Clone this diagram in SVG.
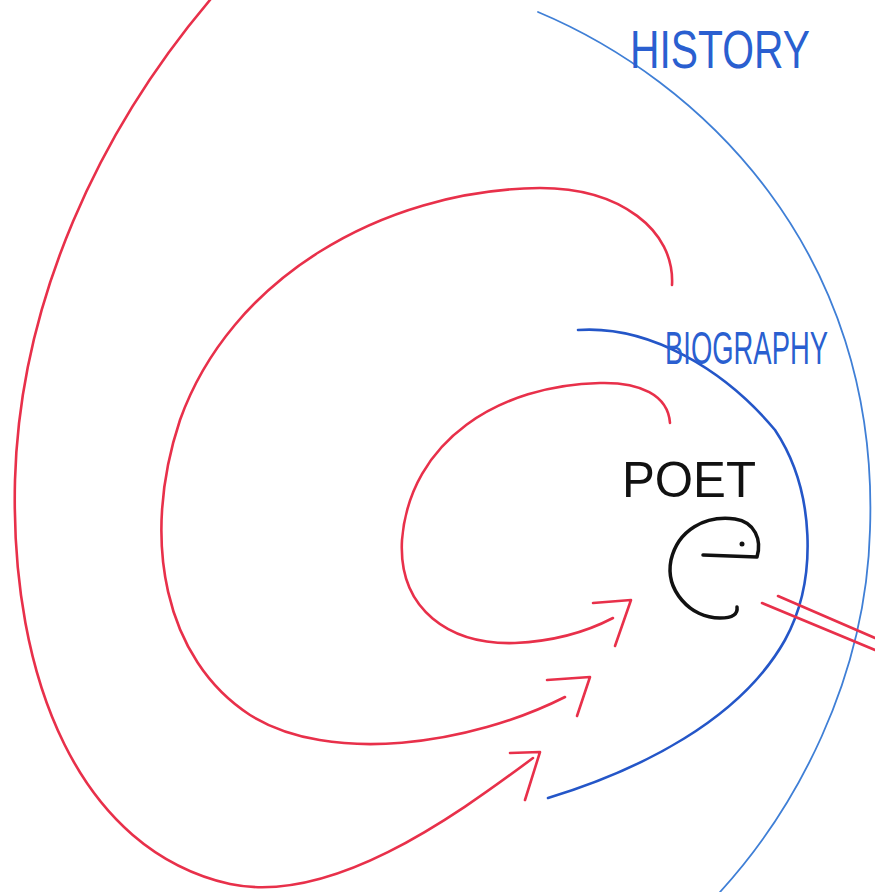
<svg xmlns="http://www.w3.org/2000/svg" width="875" height="892" viewBox="0 0 875 892">
<style>
.red{fill:none;stroke:#e8304a;stroke-width:2.6;stroke-linecap:round;stroke-linejoin:round}
.blue1{fill:none;stroke:#3f7fd6;stroke-width:1.8;stroke-linecap:round}
.blue2{fill:none;stroke:#2456c8;stroke-width:2.6;stroke-linecap:round}
.lbl{font-family:"Liberation Sans",Arial,sans-serif;fill:#2a5fd0}
.ink{fill:none;stroke:#111;stroke-width:3.5;stroke-linecap:round;stroke-linejoin:round}
</style>
<rect width="875" height="892" fill="#ffffff"/>
<g id="history">
<path class="blue1" d="M538,12 C700,80 880,250 870,530 C866,680 795,810 720,892"/>
<text class="lbl" x="630" y="68" font-size="54" textLength="180" lengthAdjust="spacingAndGlyphs">HISTORY</text>
</g>
<g id="biography">
<path class="blue2" d="M578,330 C650,325 725,370 775,430 C815,490 818,580 785,640 C740,720 640,770 548,798"/>
<text class="lbl" x="665" y="364" font-size="46" textLength="163" lengthAdjust="spacingAndGlyphs">BIOGRAPHY</text>
</g>
<g id="poet">
<text x="622" y="497" font-family="'Liberation Sans',Arial,sans-serif" font-size="50" fill="#111" textLength="134" lengthAdjust="spacingAndGlyphs">POET</text>
<path class="ink" d="M703,555 L757,557 C762,540 755,522 735,519 C705,515 678,530 671,560 C665,590 690,618 720,618 C733,618 738,614 737,607"/>
<circle cx="742" cy="544" r="2.5" fill="#111"/>
</g>
<g id="connectors">
<path class="red" d="M210,0 C100,130 20,300 15,480 C10,680 80,850 230,884 C330,905 450,820 533,758"/>
<path class="red" d="M510,753 L540,752 L525,800"/>
<path class="red" d="M672,285 C675,230 620,188 540,188 C380,190 230,280 180,420 C140,540 165,660 250,715 C330,765 470,745 565,697"/>
<path class="red" d="M547,680 L590,677 L577,716"/>
<path class="red" d="M670,423 C668,395 640,382 600,383 C500,385 410,440 402,540 C398,610 450,645 515,643 C560,641 590,630 613,618"/>
<path class="red" d="M593,603 L631,600 L615,646"/>
<path class="red" d="M762,603 L875,650"/>
<path class="red" d="M778,596 L875,638"/>
</g>
</svg>
